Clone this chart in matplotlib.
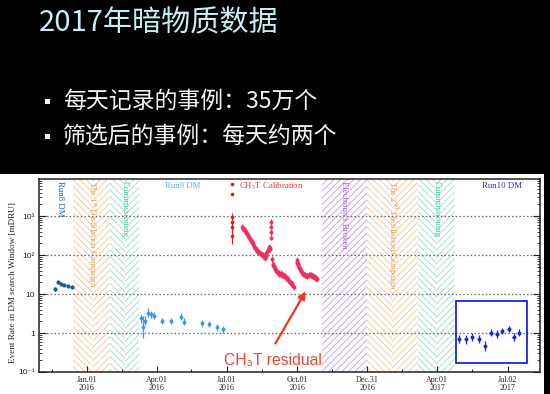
import matplotlib
matplotlib.use('Agg')
import matplotlib.pyplot as plt
import matplotlib.dates as mdates
import matplotlib.transforms as mtransforms
from matplotlib.patches import Rectangle
from matplotlib.ticker import LogLocator, NullFormatter
import numpy as np

plt.rcParams['mathtext.fontset'] = 'stix'
CJK = ['Noto Sans CJK SC', 'DejaVu Sans']
SERIF = 'Liberation Serif'
SANS = ['Liberation Sans', 'DejaVu Sans']

# ---------------- slide texts ----------------
title = '2017年暗物质数据'
bullets = ['每天记录的事例：35万个', '筛选后的事例：每天约两个']

# ---------------- data (days since 2016-01-01, rate in mDRU) ----------------
T0 = '2016-01-01'

run8_days = [-41.7, -37.4, -33.9, -29.9, -24.3, -19.1]
run8_rate = [13.4, 20.0, 18.1, 17.0, 16.1, 15.4]
run8_rel = [0.10, 0.08, 0.08, 0.08, 0.08, 0.08]

run9_days = [69.9, 72.5, 75.5, 79.7, 82.9, 87.2, 97.3, 109.0, 122.4, 126.3,
             150.1, 159.2, 169.6, 177.5]
run9_rate = [2.38, 1.45, 2.07, 3.3, 3.0, 2.78, 2.03, 2.03, 2.62, 1.95,
             1.77, 1.70, 1.40, 1.24]
run9_rel = [0.30, 0.90, 0.30, 0.30, 0.25, 0.25, 0.22, 0.22, 0.25, 0.25,
            0.25, 0.22, 0.25, 0.22]

cal0_days = [188.8, 188.8, 188.8, 188.8, 188.8, 188.8]
cal0_rate = [6500, 3600, 960, 715, 530, 307]
cal0_rel = [0.05, 0.05, 0.25, 0.25, 0.25, 0.6]

cal_days = [202.2, 203.0, 203.8, 204.8, 205.7, 206.7, 207.7, 208.4, 209.2, 210.1,
            210.9, 212.0, 213.2, 214.0, 214.8, 215.6, 216.5, 217.3, 218.1, 219.0,
            220.0, 221.0, 222.0, 223.2, 224.3, 225.5, 226.6, 227.7, 228.8, 229.6,
            230.5, 231.2, 231.8, 232.7, 233.7, 234.5, 235.3, 236.4, 237.4, 238.2,
            238.9, 240.2, 240.2, 240.2, 240.2, 241.0, 241.8, 242.6, 243.5, 244.1,
            244.8, 245.5, 246.1, 247.0, 247.8, 248.5, 249.3, 250.3, 251.3, 252.3,
            253.3, 254.0, 254.8, 255.6, 256.5, 257.8, 259.1, 259.8, 260.4, 261.2,
            262.1, 263.2, 264.3, 265.4, 266.5, 267.3, 268.2, 269.5,
            273.0, 273.6, 274.1, 274.6, 275.1, 275.9, 276.7, 277.6, 278.6, 279.6,
            280.6, 281.6, 282.6, 283.5, 284.5, 285.6, 286.8, 288.0, 289.1, 290.2,
            291.3, 292.5, 293.6, 294.6, 295.6, 296.5, 297.5, 298.7, 299.9]
cal_rate = [532, 500, 470, 455, 437, 400, 375, 350, 326, 300,
            288, 262, 242, 228, 212, 200, 188, 175, 165, 150,
            142, 135, 128, 121, 117, 110, 108, 103, 100, 96,
            92, 88, 85, 95, 110, 120, 131, 150, 163, 150,
            140, 700, 520, 380, 280, 80, 60, 55, 52, 48,
            45.7, 43, 40, 38, 37.5, 36, 34, 33, 32, 34,
            33, 31, 30.8, 30, 29, 28.5, 28, 26, 25, 24,
            22.6, 21, 20, 19.5, 18.8, 17.5, 16.5, 14.7,
            74.6, 68, 62, 58, 55, 50, 47, 43, 39, 37,
            35, 33, 32, 31, 30, 29.5, 29, 30, 31, 31.5,
            30.8, 30, 29, 28.5, 28, 27, 26, 25.5, 24.5]

run10_days = [484.8, 493.5, 501.7, 510.8, 518.6, 525.6, 533.4, 540.7, 549.1, 555.6, 562.5]
run10_rate = [0.70, 0.69, 0.80, 0.71, 0.46, 1.02, 0.94, 1.13, 1.27, 0.78, 1.02]
run10_rel = [0.30, 0.30, 0.28, 0.28, 0.35, 0.25, 0.25, 0.22, 0.22, 0.25, 0.22]

# shaded periods (start day, end day, label, text colour, hatch colour, chevron)
periods = [(-18.2, 30.0, 'The 1$^{\\mathrm{st}}$ Distillation Campaign', '#f0a050', '#f6cca6', True),
           (30.0, 68.0, 'Commissioning', '#3ccfa8', '#a8ddd0', True),
           (306.0, 364.6, 'Electronics Broken', '#a35cf0', '#c8a4f4', False),
           (364.6, 431.0, 'The 2$^{\\mathrm{nd}}$ Distillation Campaign', '#f0a050', '#f6cca6', True),
           (431.0, 479.0, 'Commissioning', '#3ccfa8', '#a8ddd0', True)]

major_dates = ['2016-01-01', '2016-04-01', '2016-07-01', '2016-10-01',
               '2016-12-31', '2017-04-01', '2017-07-02']
major_labels = ['Jan.01\n2016', 'Apr.01\n2016', 'Jul.01\n2016', 'Oct.01\n2016',
                'Dec.31\n2016', 'Apr.01\n2017', 'Jul.02\n2017']
minor_dates = ['2015-11-16', '2016-02-15', '2016-05-16', '2016-08-16',
               '2016-11-15', '2017-02-14', '2017-05-17']
ytick_vals = [0.1, 1, 10, 100, 1000]
ytick_labels = ['10⁻¹', '1', '10', '10²', '10³']

# ---------------- figure ----------------
W, H = 550, 394
fig = plt.figure(figsize=(W / 100, H / 100), dpi=100, facecolor='black')
fig.add_artist(Rectangle((0, 0), 544 / W, 220 / H, transform=fig.transFigure,
                         facecolor='white', edgecolor='none', zorder=-5))

fig.text(39 / W, 1 - 23 / H, title, fontsize=21, color='#c5eef7', family=CJK,
         ha='left', va='center')
for b, yc in zip(bullets, [101, 136]):
    fig.add_artist(Rectangle((44.5 / W, 1 - (yc + 2.6) / H), 5 / W, 5 / H,
                             transform=fig.transFigure, facecolor='#f0f0f0',
                             edgecolor='none'))
    fig.text(63 / W, 1 - yc / H, b, fontsize=16.5, color='#f4f4f4', family=CJK,
             ha='left', va='center')

ax = fig.add_axes([39 / W, 22 / H, 501 / W, 193 / H])
ax.set_facecolor('white')
t0 = mdates.datestr2num(T0)

ax.set_yscale('log')
ax.set_ylim(0.1, 8900)
ax.set_xlim(t0 - 62.5, t0 + 590)

# grid
for v in [1, 10, 100, 1000]:
    ax.axhline(v, color='#666666', lw=0.9, ls=(0, (1.2, 1.8)), zorder=1.2)

# periods
blend = mtransforms.blended_transform_factory(ax.transData, ax.transAxes)
plt.rcParams['hatch.linewidth'] = 0.7
for s, e, lab, tc, hc, split in periods:
    if split:
        m = (s + e) / 2
        ax.axvspan(t0 + s, t0 + m, facecolor='none', edgecolor=hc, lw=0, hatch='\\\\\\\\\\', zorder=1)
        ax.axvspan(t0 + m, t0 + e, facecolor='none', edgecolor=hc, lw=0, hatch='/////', zorder=1)
    else:
        ax.axvspan(t0 + s, t0 + e, facecolor='none', edgecolor=hc, lw=0, hatch='/////', zorder=1)
    ax.text(t0 + (s + e) / 2, 0.99, lab, transform=blend, rotation=270, ha='center',
            va='top', fontsize=6.3, color=tc, family=SERIF, zorder=2)


def eb(days, rate, rel, color, ms, elw, xe=0):
    d = t0 + np.asarray(days, dtype=float)
    r = np.asarray(rate, dtype=float)
    e = np.asarray(rel, dtype=float)
    lo = r - r / (1 + e)
    hi = r * e
    ax.errorbar(d, r, yerr=[lo, hi], xerr=xe if xe else None, fmt='o', color=color,
                ms=ms, elinewidth=elw, capsize=0, mew=0, zorder=3)


eb(run8_days, run8_rate, run8_rel, '#1b5e8c', 3.0, 0.8)
eb(run9_days, run9_rate, run9_rel, '#3a9ae8', 2.8, 0.9, xe=1.5)
eb(cal0_days, cal0_rate, cal0_rel, '#e81818', 2.6, 0.8)
eb(cal_days, cal_rate, [0.18] * len(cal_rate), '#f0305a', 2.8, 0.9)
eb(run10_days, run10_rate, run10_rel, '#1a22dd', 2.8, 0.9, xe=1.5)

# labels inside plot
ax.text(t0 - 35, 0.99, 'Run8 DM', transform=blend, rotation=270, ha='center', va='top',
        fontsize=6.3, color='#1f6296', family=SERIF)
ax.text(t0 + 125, 0.962, 'Run9 DM', transform=blend, ha='center', va='center',
        fontsize=6.3, color='#5aaaf0', family=SERIF)
ax.text(t0 + 198, 0.962, 'CH$_3$T Calibration', transform=blend, ha='left', va='center',
        fontsize=6.3, color='#e83838', family=SERIF)
ax.text(t0 + 540, 0.962, 'Run10 DM', transform=blend, ha='center', va='center',
        fontsize=6.3, color='#2828d8', family=SERIF)

# Run10 highlight box
ax.add_patch(Rectangle((t0 + 480.5, 0.173), 92.8, 6.73 - 0.173, facecolor='none',
                       edgecolor='#1a22ee', lw=1.3, zorder=4))

# residual arrow + text
ax.annotate('', xy=(0.535, 0.43), xytext=(0.469, 0.135), xycoords='axes fraction',
            arrowprops=dict(arrowstyle='-|>', color='#e83a20', lw=1.6, mutation_scale=11),
            zorder=5)
ax.text(0.369, 0.036, 'CH₃T residual', transform=ax.transAxes, ha='left',
        va='baseline', fontsize=11.3, color='#e8472e', family=SANS, zorder=5)

# axes styling
for sp in ax.spines.values():
    sp.set_color('#222222')
    sp.set_linewidth(1.1)
ax.set_yticks(ytick_vals, labels=ytick_labels)
ax.yaxis.set_minor_locator(LogLocator(base=10, subs=np.arange(2, 10), numticks=20))
ax.yaxis.set_minor_formatter(NullFormatter())
ax.set_xticks([mdates.datestr2num(d) for d in major_dates], labels=major_labels)
ax.set_xticks([mdates.datestr2num(d) for d in minor_dates], minor=True)
ax.tick_params(axis='y', which='major', direction='in', length=5, width=0.8,
               right=True, labelsize=6, pad=3, colors='#222222')
ax.tick_params(axis='y', which='minor', direction='in', length=2.5, width=0.6, right=True,
               colors='#222222')
ax.tick_params(axis='x', which='major', direction='in', length=4, width=0.8,
               labelsize=5.8, pad=3, colors='#222222')
ax.tick_params(axis='x', which='minor', direction='in', length=2.5, width=0.7,
               colors='#222222')
for lab in ax.get_yticklabels():
    lab.set_family(SANS)
for lab in ax.get_xticklabels():
    lab.set_family(SERIF)
    lab.set_linespacing(1.05)

fig.text(12.7 / W, 1 - 282.5 / H, 'Event Rate in DM search Window [mDRU]', rotation=90,
         ha='center', va='center', fontsize=6.6, family=SERIF, color='#222222')

fig.savefig('out.png', dpi=100, facecolor='black')
